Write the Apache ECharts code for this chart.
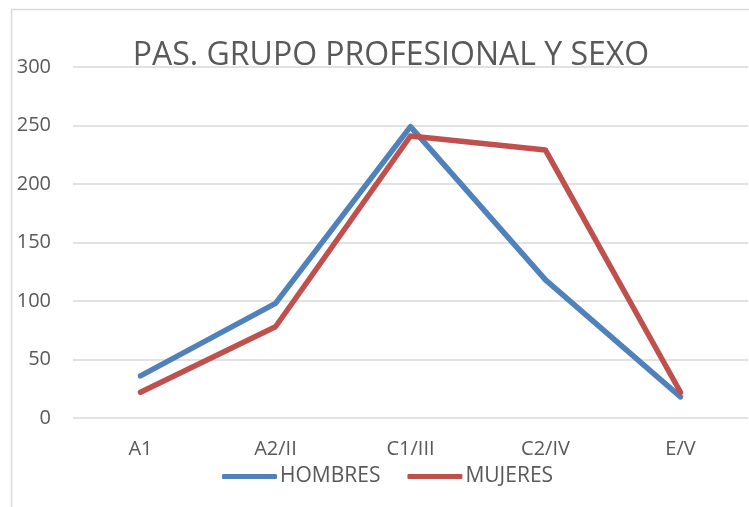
<!DOCTYPE html>
<html>
<head>
<meta charset="utf-8">
<script src="https://cdn.jsdelivr.net/npm/echarts@6/dist/echarts.min.js"></script>
<style>html,body{margin:0;padding:0;background:#fff}#c{width:749px;height:507px}</style>
</head>
<body>
<div id="c"></div>
<script>
var categories = ['A1', 'A2/II', 'C1/III', 'C2/IV', 'E/V'];
var hombres = [36, 98, 249, 118, 18];
var mujeres = [22, 78, 241, 229, 22];
var yTicks = {min: 0, max: 300, interval: 50};
var titleText = 'PAS. GRUPO PROFESIONAL Y SEXO';

var font = "'Open Sans', sans-serif";
var chart = echarts.init(document.getElementById('c'), null, {renderer: 'canvas'});
chart.setOption({
  animation: false,
  backgroundColor: '#fff',
  graphic: [{
    type: 'rect', silent: true, z: -1,
    shape: {x: 11.5, y: 9.5, width: 800, height: 600},
    style: {fill: 'none', stroke: '#d9d9d9', lineWidth: 1.5}
  }],
  title: {
    text: titleText, left: 386, top: 35, textAlign: 'center',
    textStyle: {fontFamily: font, fontSize: 32, fontWeight: 'normal', color: '#595959'}
  },
  legend: {
    data: ['HOMBRES', 'MUJERES'], left: 217, top: 461,
    itemWidth: 55, itemHeight: 5, itemGap: 27,
    icon: 'roundRect',
    textStyle: {fontFamily: font, fontSize: 21, color: '#595959', padding: [0, 0, 0, -2]}
  },
  grid: {left: 73, right: 1, top: 67, bottom: 89, containLabel: false},
  xAxis: {
    type: 'category', data: categories, boundaryGap: true,
    axisLine: {show: false}, axisTick: {show: false},
    axisLabel: {fontFamily: font, fontSize: 20, color: '#595959', margin: 21}
  },
  yAxis: {
    type: 'value', min: yTicks.min, max: yTicks.max, interval: yTicks.interval,
    axisLine: {show: false}, axisTick: {show: false},
    splitLine: {lineStyle: {color: '#d9d9d9', width: 1.5}},
    axisLabel: {fontFamily: font, fontSize: 20, color: '#595959', margin: 22}
  },
  series: [
    {name: 'HOMBRES', type: 'line', data: hombres, symbol: 'none',
     lineStyle: {color: '#4F81BD', width: 5.5, cap: 'round', join: 'round'}, itemStyle: {color: '#4F81BD'}},
    {name: 'MUJERES', type: 'line', data: mujeres, symbol: 'none',
     lineStyle: {color: '#C0504D', width: 5.5, cap: 'round', join: 'round'}, itemStyle: {color: '#C0504D'}}
  ]
});
</script>
</body>
</html>
